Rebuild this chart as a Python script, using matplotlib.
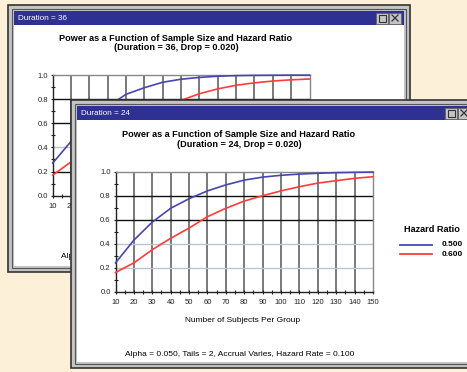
import matplotlib
matplotlib.use("Agg")
import matplotlib.pyplot as plt
from matplotlib.patches import Rectangle
from matplotlib.ticker import FormatStrFormatter

plt.rcParams['font.family'] = ['Liberation Sans', 'DejaVu Sans']

# data
subjects = [10, 20, 30, 40, 50, 60, 70, 80, 90, 100, 110, 120, 130, 140, 150]
power_d24_hr50 = [0.24, 0.43, 0.58, 0.695, 0.775, 0.84, 0.89, 0.93, 0.955, 0.97, 0.98, 0.987, 0.992, 0.995, 0.997]
power_d24_hr60 = [0.16, 0.24, 0.35, 0.445, 0.53, 0.625, 0.695, 0.755, 0.80, 0.84, 0.875, 0.905, 0.925, 0.945, 0.958]
power_d36_hr50 = [0.27, 0.45, 0.61, 0.74, 0.84, 0.895, 0.94, 0.965, 0.98, 0.99, 0.995, 0.997, 0.998, 0.999, 0.999]
power_d36_hr60 = [0.17, 0.28, 0.40, 0.50, 0.59, 0.66, 0.73, 0.79, 0.845, 0.885, 0.915, 0.935, 0.95, 0.96, 0.967]
hazard_ratios = ["0.500", "0.600"]
y_ticks = [0.0, 0.2, 0.4, 0.6, 0.8, 1.0]

W, H = 467, 372
BLUE = '#4646ae'
RED = '#ff3b3b'
NAVY = '#2f3192'


def box(x0, y0, x1, y1):
    return [x0 / W, 1 - y1 / H, (x1 - x0) / W, (y1 - y0) / H]


def window(ax, x0, y0, x1, y1, title):
    # frame, title bar, client area, buttons
    ax.add_patch(Rectangle((x0, y0), x1 - x0, y1 - y0, fc='#c4c4c4', ec='#333333', lw=1.2))
    ax.add_patch(Rectangle((x0 + 4, y0 + 4), x1 - x0 - 8, y1 - y0 - 8, fc='#c4c4c4', ec='#555555', lw=0.8))
    ax.add_patch(Rectangle((x0 + 6, y0 + 6), x1 - x0 - 12, 14, fc=NAVY, ec='none'))
    ax.add_patch(Rectangle((x0 + 6, y0 + 20), x1 - x0 - 12, y1 - y0 - 26, fc='white', ec='none'))
    bx = x1 - 34
    ax.add_patch(Rectangle((bx, y0 + 7.5), 12, 11, fc='#c4c4c4', ec='#666666', lw=0.6))
    ax.add_patch(Rectangle((bx + 2.5, y0 + 9.5), 7, 7, fc='none', ec='#333333', lw=0.8))
    ax.add_patch(Rectangle((bx + 13, y0 + 7.5), 12, 11, fc='#c4c4c4', ec='#666666', lw=0.6))
    cx, cy = bx + 19, y0 + 13
    ax.plot([cx - 3, cx + 3], [cy - 3, cy + 3], color='#333333', lw=0.9)
    ax.plot([cx - 3, cx + 3], [cy + 3, cy - 3], color='#333333', lw=0.9)
    ax.text(x0 + 10, y0 + 13.5, title, ha='left', va='center', fontsize=5.9, color='white')


def chart(ax, d50, d60, dark_rows):
    ax.plot(subjects, d50, color=BLUE, lw=1.2, zorder=4, clip_on=False)
    ax.plot(subjects, d60, color=RED, lw=1.2, zorder=4, clip_on=False)
    ax.set_xlim(10, 150)
    ax.set_ylim(0, 1)
    ax.set_xticks(subjects)
    ax.set_xticks(range(15, 150, 10), minor=True)
    ax.set_yticks(y_ticks)
    ax.set_yticks([0.1, 0.3, 0.5, 0.7, 0.9], minor=True)
    ax.yaxis.set_major_formatter(FormatStrFormatter('%.1f'))
    for x in subjects[1:-1]:
        ax.axvline(x, color='#555555', lw=1.1, zorder=1)
    for y in [0.2, 0.4, 0.6, 0.8]:
        ax.axhline(y, color='#111111' if y in dark_rows else '#b9c4cc', lw=1.0, zorder=2)
    for s in ['top', 'right']:
        ax.spines[s].set_color('#888888')
        ax.spines[s].set_linewidth(1.0)
    for s in ['left', 'bottom']:
        ax.spines[s].set_color('#222222')
        ax.spines[s].set_linewidth(1.0)
    ax.tick_params(which='both', direction='inout', length=3, width=0.8,
                   labelsize=5.5, pad=2, colors='#222222')
    ax.tick_params(axis='x', pad=4)


fig = plt.figure(figsize=(W / 100, H / 100), dpi=100, facecolor='#fdf0d8')

# background layer with the back window
bg = fig.add_axes([0, 0, 1, 1], zorder=0)
bg.set_xlim(0, W)
bg.set_ylim(H, 0)
bg.axis('off')
window(bg, 8, 5, 410, 272, 'Duration = 36')
bg.text(176, 38.5, 'Power as a Function of Sample Size and Hazard Ratio',
        ha='center', va='center', fontsize=6.6, fontweight='bold')
bg.text(176, 48, '(Duration = 36, Drop = 0.020)',
        ha='center', va='center', fontsize=6.6, fontweight='bold')
bg.text(176, 257, 'Alpha = 0.050, Tails = 2, Accrual Varies, Hazard Rate = 0.100',
        ha='center', va='center', fontsize=6)

back = fig.add_axes(box(52.7, 75, 309.5, 195.7), zorder=1)
chart(back, power_d36_hr50, power_d36_hr60, [0.2, 0.6, 0.8])

# front window layer
fw = fig.add_axes([0, 0, 1, 1], zorder=2)
fw.set_xlim(0, W)
fw.set_ylim(H, 0)
fw.axis('off')
fw.patch.set_alpha(0)
window(fw, 71, 100, 479, 368, 'Duration = 24')
fw.text(239, 134.5, 'Power as a Function of Sample Size and Hazard Ratio',
        ha='center', va='center', fontsize=6.6, fontweight='bold')
fw.text(239, 144.5, '(Duration = 24, Drop = 0.020)',
        ha='center', va='center', fontsize=6.6, fontweight='bold')
fw.text(243, 320, 'Number of Subjects Per Group', ha='center', va='center', fontsize=6)
fw.text(240, 354, 'Alpha = 0.050, Tails = 2, Accrual Varies, Hazard Rate = 0.100',
        ha='center', va='center', fontsize=6)
fw.text(432, 230, 'Hazard Ratio', ha='center', va='center', fontsize=6.6, fontweight='bold')
for i, (lab, col) in enumerate(zip(hazard_ratios, [BLUE, RED])):
    yy = 244.5 + i * 9.5
    fw.plot([400, 432], [yy, yy], color=col, lw=1.3)
    fw.text(442, yy, lab, ha='left', va='center', fontsize=6, fontweight='bold')

front = fig.add_axes(box(115.5, 171.7, 373, 291.7), zorder=3)
chart(front, power_d24_hr50, power_d24_hr60, [0.6, 0.8])

fig.savefig('out.png', dpi=100, facecolor=fig.get_facecolor())
